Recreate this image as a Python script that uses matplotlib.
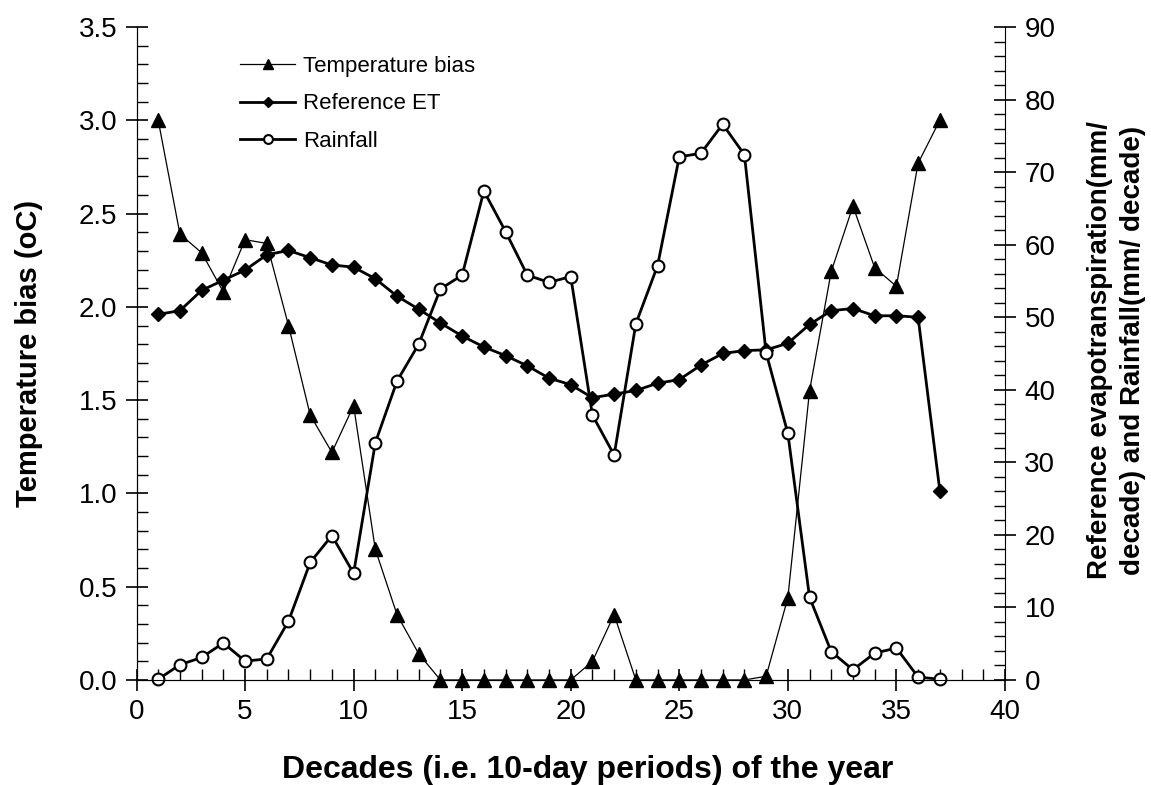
import matplotlib.pyplot as plt
from matplotlib.ticker import MultipleLocator

plt.rcParams['font.family'] = ['Liberation Sans', 'DejaVu Sans']

decades = list(range(1, 38))

temp_bias = [3.00, 2.39, 2.29, 2.08, 2.36, 2.34, 1.90, 1.42, 1.22, 1.47,
             0.70, 0.35, 0.14, 0.0, 0.0, 0.0, 0.0, 0.0, 0.0, 0.0,
             0.10, 0.35, 0.0, 0.0, 0.0, 0.0, 0.0, 0.0, 0.02, 0.44,
             1.55, 2.19, 2.54, 2.21, 2.11, 2.77, 3.00]

ref_et = [50.4, 50.9, 53.7, 55.1, 56.5, 58.6, 59.2, 58.2, 57.2, 56.9,
          55.3, 52.9, 51.1, 49.2, 47.4, 45.9, 44.7, 43.3, 41.6, 40.7,
          38.9, 39.4, 39.9, 40.9, 41.4, 43.4, 45.0, 45.4, 45.5, 46.4,
          49.0, 50.9, 51.2, 50.2, 50.2, 50.0, 26.1]

rainfall = [0.1, 2.1, 3.1, 5.1, 2.6, 2.9, 8.1, 16.2, 19.9, 14.7,
            32.7, 41.2, 46.3, 53.9, 55.8, 67.4, 61.8, 55.8, 54.8, 55.6,
            36.5, 31.0, 49.1, 57.1, 72.1, 72.6, 76.6, 72.4, 45.1, 34.0,
            11.4, 3.9, 1.4, 3.7, 4.4, 0.4, 0.1]

fig = plt.figure(figsize=(11.51, 7.85), dpi=100)
ax = fig.add_axes([0.1186, 0.1338, 0.7545, 0.8318])
ax2 = ax.twinx()

l1, = ax.plot(decades, temp_bias, color='black', lw=0.9, marker='^',
              markersize=10, markerfacecolor='black', clip_on=False, zorder=5)
l2, = ax2.plot(decades, ref_et, color='black', lw=2.0, marker='D',
               markersize=7, markerfacecolor='black', clip_on=False)
l3, = ax2.plot(decades, rainfall, color='black', lw=2.0, marker='o',
               markersize=8.5, markerfacecolor='white', markeredgewidth=1.5,
               clip_on=False)

ax.set_xlim(0, 40)
ax.set_ylim(0, 3.5)
ax2.set_ylim(0, 90)

ax.xaxis.set_major_locator(MultipleLocator(5))
ax.xaxis.set_minor_locator(MultipleLocator(1))
ax.yaxis.set_major_locator(MultipleLocator(0.5))
ax.yaxis.set_minor_locator(MultipleLocator(0.1))
ax2.yaxis.set_major_locator(MultipleLocator(10))
ax2.yaxis.set_minor_locator(MultipleLocator(2))
ax.yaxis.set_major_formatter(plt.FormatStrFormatter('%.1f'))

for a in (ax, ax2):
    a.spines['top'].set_visible(False)
    a.tick_params(which='major', direction='inout', length=16, width=1.2,
                  labelsize=20, pad=6)
    a.tick_params(which='minor', direction='in', length=8, width=1.0)
ax.spines['right'].set_visible(False)

ax.set_xlabel('Decades (i.e. 10-day periods) of the year', fontsize=23,
              fontweight='bold')
ax.set_ylabel('Temperature bias (oC)', fontsize=21, fontweight='bold')
ax2.set_ylabel('Reference evapotranspiration(mm/\ndecade) and Rainfall(mm/ decade)',
               fontsize=20, fontweight='bold', linespacing=1.35)

ax.xaxis.set_label_coords(0.519, -0.138)
ax.xaxis.label.set_va('center')
ax.yaxis.set_label_coords(-0.124, 0.5)
ax.yaxis.label.set_va('center')
ax2.yaxis.set_label_coords(1.128, 0.505)
ax2.yaxis.label.set_va('center')

ax.legend([l1, l2, l3], ['Temperature bias', 'Reference ET', 'Rainfall'],
          loc='upper left', bbox_to_anchor=(0.119, 0.956), frameon=False,
          borderpad=0, borderaxespad=0, markerscale=0.75,
          fontsize=16, handlelength=2.5, handletextpad=0.35, labelspacing=0.75)

fig.savefig('out.png', dpi=100)
